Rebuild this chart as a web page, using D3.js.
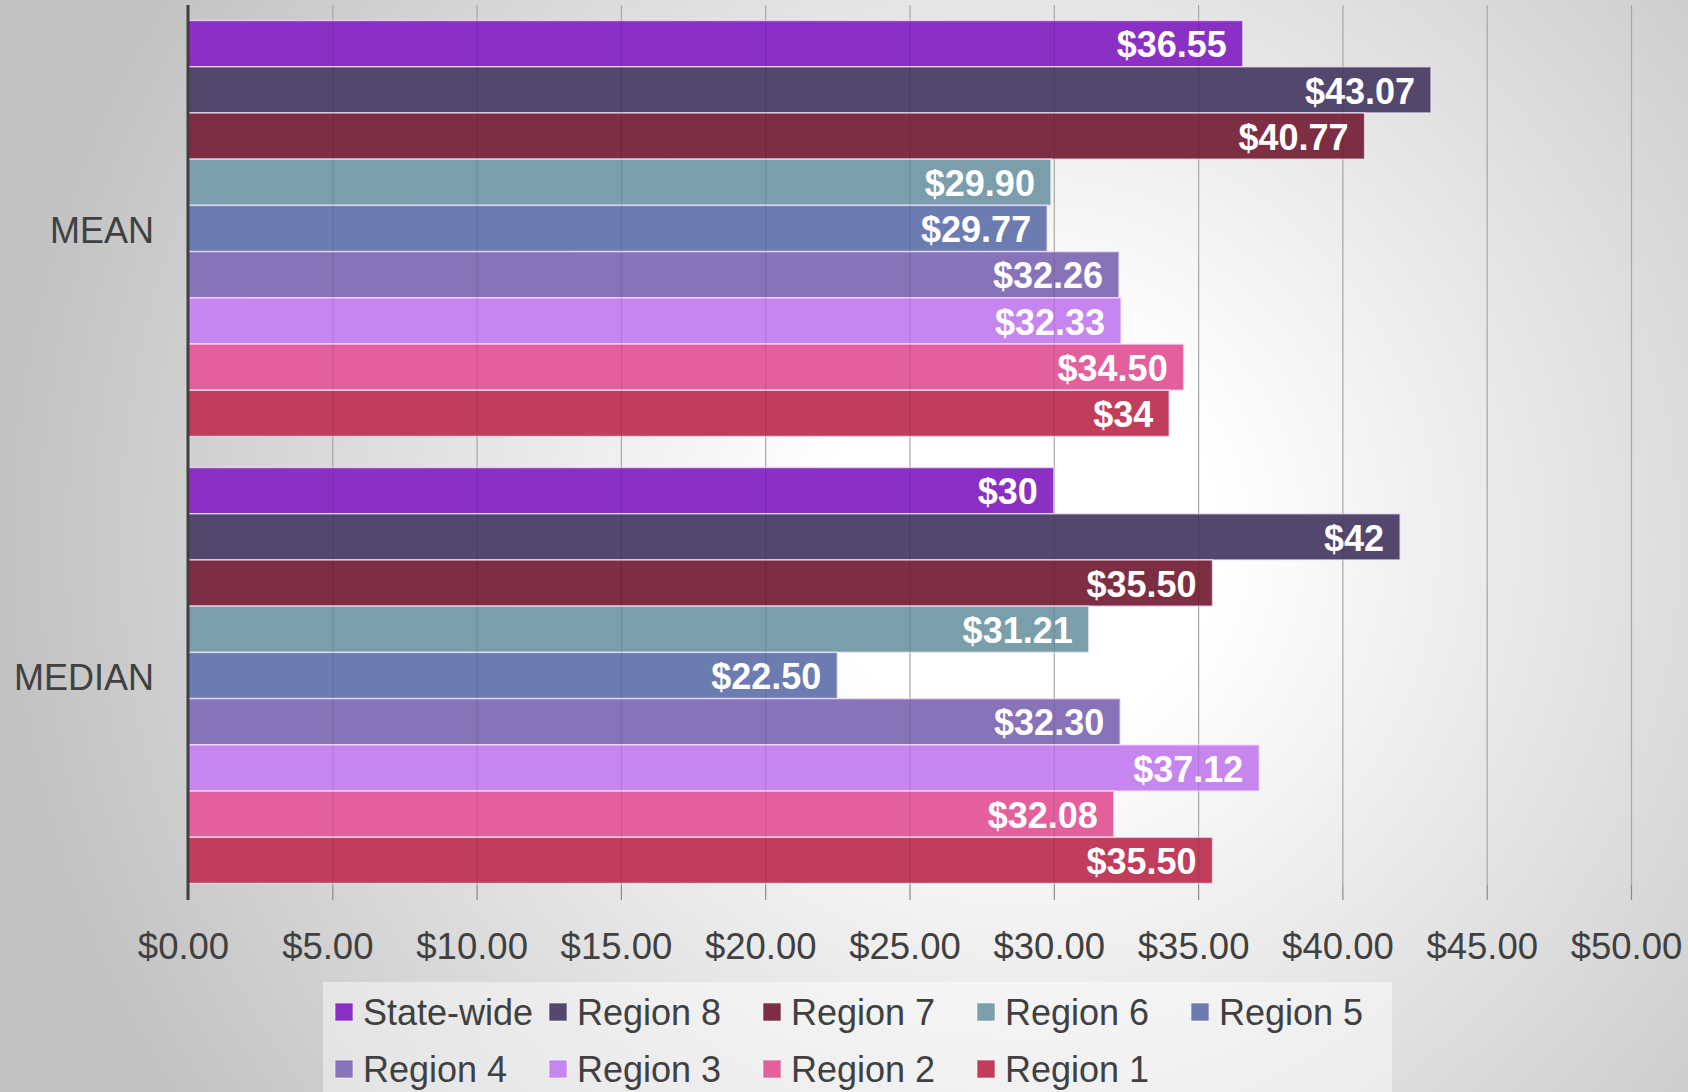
<!DOCTYPE html>
<meta charset="utf-8">
<style>
html, body { margin: 0; padding: 0; }
body { font-family: "Liberation Sans", Arial, sans-serif; }
svg { display: block; }
</style>
<body>
<svg width="1688" height="1092"></svg>
<script src="https://cdn.jsdelivr.net/npm/d3@7"></script>
<script>

// chart data
var categories = ["MEAN", "MEDIAN"];
var series = ["State-wide", "Region 8", "Region 7", "Region 6", "Region 5",
              "Region 4", "Region 3", "Region 2", "Region 1"];
var meanValues   = [36.55, 43.07, 40.77, 29.90, 29.77, 32.26, 32.33, 34.50, 34];
var medianValues = [30, 42, 35.50, 31.21, 22.50, 32.30, 37.12, 32.08, 35.50];
var tickValues = [0, 5, 10, 15, 20, 25, 30, 35, 40, 45, 50];
var colours = ["#8a30c5", "#54476e", "#7e2e43", "#7a9eaa", "#6c7cb0",
               "#8873b8", "#c785f0", "#e4609c", "#c03d5b"];

var valuesByCat = { "MEAN": meanValues, "MEDIAN": medianValues };

var svg = d3.select("svg"),
    width = +svg.attr("width"),
    height = +svg.attr("height");

var plot = { left: 188, right: 1631, top: 5, bottom: 899 };

// background
var defs = svg.append("defs");
var grad = defs.append("radialGradient")
    .attr("id", "bg")
    .attr("gradientUnits", "userSpaceOnUse")
    .attr("cx", 1020).attr("cy", 540).attr("r", 1020);
grad.append("stop").attr("offset", "0").attr("stop-color", "#ffffff");
grad.append("stop").attr("offset", "0.2").attr("stop-color", "#ffffff");
grad.append("stop").attr("offset", "1").attr("stop-color", "#c2c2c2");

svg.append("rect").attr("width", width).attr("height", height).attr("fill", "url(#bg)");

// scales
var x = d3.scaleLinear().domain([0, 50]).range([plot.left, plot.right]);
var y0 = d3.scaleBand().domain(categories).range([plot.top, plot.bottom])
    .paddingInner(0.0694).paddingOuter(0.0347);
var y1 = d3.scaleBand().domain(series).range([0, y0.bandwidth()]);

function gridlines(sel, colour, opacity) {
    sel.selectAll("line").data(tickValues.slice(1)).enter().append("line")
        .attr("x1", function(d) { return x(d) + 0.5; })
        .attr("x2", function(d) { return x(d) + 0.5; })
        .attr("y1", plot.top)
        .attr("y2", 885)
        .attr("stroke", colour)
        .attr("stroke-opacity", opacity)
        .attr("stroke-width", 1.2);
}

// gridlines under the bars
svg.append("g").attr("class", "grid").call(gridlines, "#bbbbbb", 1);

// x axis
var xAxis = d3.axisBottom(x)
    .tickValues(tickValues)
    .tickSize(15)
    .tickPadding(33)
    .tickFormat(function(d) { return "$" + d.toFixed(2); });

var axisG = svg.append("g")
    .attr("transform", "translate(0,885)")
    .call(xAxis);
axisG.select(".domain").remove();
axisG.selectAll(".tick line").attr("stroke", "#8a8a8a").attr("stroke-width", 1.2);
axisG.selectAll(".tick text")
    .attr("dx", -5)
    .attr("fill", "#404040")
    .style("font-family", "'Liberation Sans', Arial, sans-serif")
    .style("font-size", "36.5px");

// bars
var groups = svg.append("g").selectAll("g.cat")
    .data(categories).enter().append("g")
    .attr("class", "cat")
    .attr("transform", function(d) { return "translate(0," + y0(d) + ")"; });

var bars = groups.selectAll("g.bar")
    .data(function(c) {
        return series.map(function(s, i) {
            return { cat: c, name: s, value: valuesByCat[c][i], colour: colours[i] };
        });
    })
    .enter().append("g").attr("class", "bar");

bars.append("rect")
    .attr("x", x(0))
    .attr("y", function(d) { return y1(d.name); })
    .attr("width", function(d) { return x(d.value) - x(0); })
    .attr("height", y1.bandwidth())
    .attr("fill", function(d) { return d.colour; })
    .attr("stroke", "#f4e8ff")
    .attr("stroke-opacity", 0.7)
    .attr("stroke-width", 1.5);

// faint gridlines showing through the bars
svg.append("g").attr("class", "grid-over").call(gridlines, "#000000", 0.1);

bars.append("text")
    .attr("x", function(d) { return x(d.value) - 16; })
    .attr("y", function(d) { return y1(d.name) + y1.bandwidth() / 2; })
    .attr("dy", "0.38em")
    .attr("text-anchor", "end")
    .attr("fill", "#ffffff")
    .style("font-size", "36px")
    .style("font-weight", "bold")
    .text(function(d) {
        return Number.isInteger(d.value) ? "$" + d.value : "$" + d.value.toFixed(2);
    });
bars.raise();

// vertical axis line
svg.append("line")
    .attr("x1", plot.left).attr("x2", plot.left)
    .attr("y1", plot.top).attr("y2", 900)
    .attr("stroke", "#3f3f3f")
    .attr("stroke-width", 3);

// category labels
svg.selectAll("text.cat").data(categories).enter().append("text")
    .attr("class", "cat")
    .attr("x", 154)
    .attr("y", function(d) { return y0(d) + y0.bandwidth() / 2; })
    .attr("dy", "0.4em")
    .attr("text-anchor", "end")
    .attr("fill", "#404040")
    .style("font-size", "36px")
    .text(function(d) { return d; });

// legend
var legend = svg.append("g").attr("transform", "translate(323,982)");
legend.append("rect")
    .attr("width", 1069).attr("height", 120)
    .attr("fill", "#ffffff").attr("fill-opacity", 0.45);

var item = legend.selectAll("g.item").data(series).enter().append("g")
    .attr("class", "item")
    .attr("transform", function(d, i) {
        return "translate(" + (12 + (i % 5) * 214) + "," + (30 + Math.floor(i / 5) * 57) + ")";
    });
item.append("rect")
    .attr("x", 0).attr("y", -9)
    .attr("width", 18).attr("height", 18)
    .attr("fill", function(d, i) { return colours[i]; })
    .attr("stroke", "#ffffff").attr("stroke-opacity", 0.6).attr("stroke-width", 1);
item.append("text")
    .attr("x", 28)
    .attr("dy", "0.36em")
    .attr("fill", "#404040")
    .style("font-size", "36px")
    .text(function(d) { return d; });

</script>
</body>
